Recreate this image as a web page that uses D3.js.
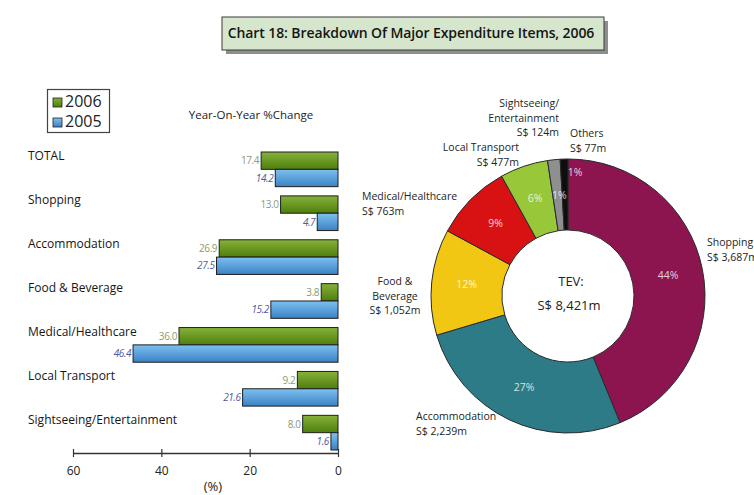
<!DOCTYPE html>
<html>
<head>
<meta charset="utf-8">
<script src="https://cdn.jsdelivr.net/npm/d3@7"></script>
<style>
  html, body { margin: 0; padding: 0; background: #fff; }
  svg { display: block; font-family: "Open Sans", "DejaVu Sans", sans-serif; }
</style>
</head>
<body>
<svg id="chart" width="754" height="495"></svg>
<script>
// ---- Year-on-year % change by expenditure item ----
const categories = ["TOTAL", "Shopping", "Accommodation", "Food & Beverage",
                    "Medical/Healthcare", "Local Transport", "Sightseeing/Entertainment"];
const change2006 = [17.4, 13.0, 26.9, 3.8, 36.0, 9.2, 8.0];
const change2005 = [14.2, 4.7, 27.5, 15.2, 46.4, 21.6, 1.6];
const years = ["2006", "2005"];
const axisTicks = [60, 40, 20, 0];

// ---- Tourism expenditure 2006 (S$ million) ----
const pieItems = ["Shopping", "Accommodation", "Food & Beverage", "Medical/Healthcare",
                  "Local Transport", "Sightseeing/Entertainment", "Others"];
const pieValues = [3687, 2239, 1052, 763, 477, 124, 77];
const tevTotal = 8421;

const svg = d3.select("#chart");
const defs = svg.append("defs");

// Bar shading gradients
function grad(id, top, bottom) {
  const g = defs.append("linearGradient").attr("id", id)
    .attr("x1", 0).attr("y1", 0).attr("x2", 0).attr("y2", 1);
  g.append("stop").attr("offset", "0%").attr("stop-color", top);
  g.append("stop").attr("offset", "100%").attr("stop-color", bottom);
}
grad("g2006", "#86b23a", "#4f7e0c");
grad("g2005", "#7fc0f0", "#3a82c4");
const fills = { "2006": "url(#g2006)", "2005": "url(#g2005)" };

// Title box with drop shadow
const titleG = svg.append("g");
titleG.append("rect").attr("x", 226).attr("y", 21).attr("width", 382).attr("height", 33)
  .attr("fill", "#8e8e8e");
titleG.append("rect").attr("x", 222).attr("y", 17).attr("width", 382).attr("height", 33)
  .attr("fill", "#d6e6cc").attr("stroke", "#3a3a3a").attr("stroke-width", 1);
titleG.append("text").attr("x", 411).attr("y", 34).attr("text-anchor", "middle")
  .attr("dominant-baseline", "middle").attr("font-size", 14).attr("font-weight", 600)
  .attr("fill", "#151515").attr("letter-spacing", -0.1)
  .text("Chart 18: Breakdown Of Major Expenditure Items, 2006");

// ---------- Bar chart ----------
const x = d3.scaleLinear().domain([0, 60]).range([338, 73]);
const y = d3.scaleBand().domain(categories).range([152, 450]).paddingInner(0.21).paddingOuter(0);
const ySub = d3.scaleBand().domain(years).range([0, y.bandwidth()]);

const rows = categories.map((c, i) => ({ cat: c, vals: [
  { year: "2006", v: change2006[i] }, { year: "2005", v: change2005[i] }] }));

const bars = svg.append("g");
const grp = bars.selectAll("g.row").data(rows).join("g")
  .attr("transform", d => `translate(0,${y(d.cat)})`);

grp.append("text")
  .attr("x", 28).attr("y", 5).attr("dominant-baseline", "middle")
  .attr("font-size", 12).attr("fill", "#161616")
  .text(d => d.cat);

grp.selectAll("rect").data(d => d.vals).join("rect")
  .attr("x", d => x(d.v)).attr("y", d => ySub(d.year))
  .attr("width", d => x(0) - x(d.v)).attr("height", ySub.bandwidth())
  .attr("fill", d => fills[d.year]).attr("stroke", "#1e1e1e").attr("stroke-width", 1);

grp.selectAll("text.val").data(d => d.vals).join("text").attr("class", "val")
  .attr("x", d => x(d.v) - 2).attr("y", d => ySub(d.year) + ySub.bandwidth() / 2 + 1)
  .attr("text-anchor", "end").attr("dominant-baseline", "middle")
  .attr("font-size", 10).attr("letter-spacing", -0.4)
  .attr("font-style", d => d.year === "2005" ? "italic" : "normal")
  .attr("fill", d => d.year === "2005" ? "#56589a" : "#8e9a72")
  .text(d => d.v.toFixed(1));

// x axis
const axisG = svg.append("g").attr("transform", "translate(0,453)")
  .call(d3.axisBottom(x).tickValues(axisTicks).tickSize(0).tickPadding(13));
axisG.select(".domain").attr("stroke", "#333").attr("stroke-width", 1.5);
axisG.selectAll(".tick text").attr("font-size", 12).attr("fill", "#222")
  .attr("font-family", "\"Open Sans\", sans-serif");
axisG.selectAll(".tick").append("line").attr("y1", -4).attr("y2", 4)
  .attr("stroke", "#333").attr("stroke-width", 1.2);
svg.append("text").attr("x", 213).attr("y", 491).attr("text-anchor", "middle")
  .attr("font-size", 13).attr("fill", "#222").text("(%)");

svg.append("text").attr("x", 251).attr("y", 116).attr("text-anchor", "middle")
  .attr("dominant-baseline", "middle").attr("font-size", 11.5).attr("fill", "#222")
  .text("Year-On-Year %Change");

// legend
const leg = svg.append("g");
leg.append("rect").attr("x", 47.5).attr("y", 89.5).attr("width", 62).attr("height", 43)
  .attr("fill", "#fff").attr("stroke", "#444").attr("stroke-width", 1.2);
years.forEach((yr, i) => {
  leg.append("rect").attr("x", 53).attr("y", 98 + i * 20).attr("width", 9).attr("height", 9)
    .attr("fill", fills[yr]).attr("stroke", "#222").attr("stroke-width", 0.8);
  leg.append("text").attr("x", 65).attr("y", 103 + i * 20).attr("dominant-baseline", "middle")
    .attr("font-size", 16).attr("fill", "#222").text(yr);
});

// ---------- Donut chart ----------
const cx = 568, cy = 296;
const pieColors = ["#8c1550", "#2d7b86", "#f2c713", "#d81212", "#98c83a", "#8f8f8f", "#0e0e0e"];
const pie = d3.pie().sort(null).value(d => d.v);
const arcs = pie(pieItems.map((n, i) => ({ name: n, v: pieValues[i], color: pieColors[i] })));
const arc = d3.arc().innerRadius(66).outerRadius(137);
const labelArc = d3.arc().innerRadius(102).outerRadius(102);

const donut = svg.append("g").attr("transform", `translate(${cx},${cy})`);
donut.selectAll("path").data(arcs).join("path")
  .attr("d", arc).attr("fill", d => d.data.color)
  .attr("stroke", "#2a2a2a").attr("stroke-width", 1);

// percentage labels inside slices
const pctNudge = { "Others": [10, -21], "Sightseeing/Entertainment": [2, 2] };
donut.selectAll("text.pct").data(arcs).join("text").attr("class", "pct")
  .attr("transform", d => {
    const [px, py] = labelArc.centroid(d);
    const n = pctNudge[d.data.name] || [0, 0];
    return `translate(${px + n[0]},${py + n[1]})`;
  })
  .attr("text-anchor", "middle").attr("dominant-baseline", "middle")
  .attr("font-size", 10.5).attr("fill", "#fff").attr("fill-opacity", 0.8)
  .text(d => Math.round(d.data.v / tevTotal * 100) + "%");

// centre total
donut.append("text").attr("x", 3).attr("y", -13).attr("text-anchor", "middle")
  .attr("dominant-baseline", "middle").attr("font-size", 13).attr("fill", "#222").text("TEV:");
donut.append("text").attr("x", 1).attr("y", 11).attr("text-anchor", "middle")
  .attr("dominant-baseline", "middle").attr("font-size", 13).attr("fill", "#222")
  .text("S$ " + d3.format(",")(tevTotal) + "m");

// outer category labels
const fmt = d3.format(",");
const outerLabels = {
  "Shopping":                  { x: 707, y: 243, anchor: "start",  lines: ["Shopping"] },
  "Accommodation":             { x: 416, y: 417, anchor: "start",  lines: ["Accommodation"] },
  "Food & Beverage":           { x: 395, y: 282, anchor: "middle", lines: ["Food &", "Beverage"] },
  "Medical/Healthcare":        { x: 362, y: 197, anchor: "start",  lines: ["Medical/Healthcare"] },
  "Local Transport":           { x: 519, y: 148, anchor: "end",    lines: ["Local Transport"] },
  "Sightseeing/Entertainment": { x: 559, y: 104, anchor: "end",    lines: ["Sightseeing/", "Entertainment"] },
  "Others":                    { x: 570, y: 134, anchor: "start",  lines: ["Others"] }
};
arcs.forEach(d => {
  const L = outerLabels[d.data.name];
  const t = svg.append("text").attr("x", L.x).attr("y", L.y)
    .attr("text-anchor", L.anchor).attr("font-size", 10.5).attr("fill", "#1e1e1e")
    .attr("dominant-baseline", "middle");
  L.lines.concat(["S$ " + fmt(d.data.v) + "m"]).forEach((ln, i) => {
    t.append("tspan").attr("x", L.x).attr("dy", i === 0 ? 0 : 14.5).text(ln);
  });
});
</script>
</body>
</html>
